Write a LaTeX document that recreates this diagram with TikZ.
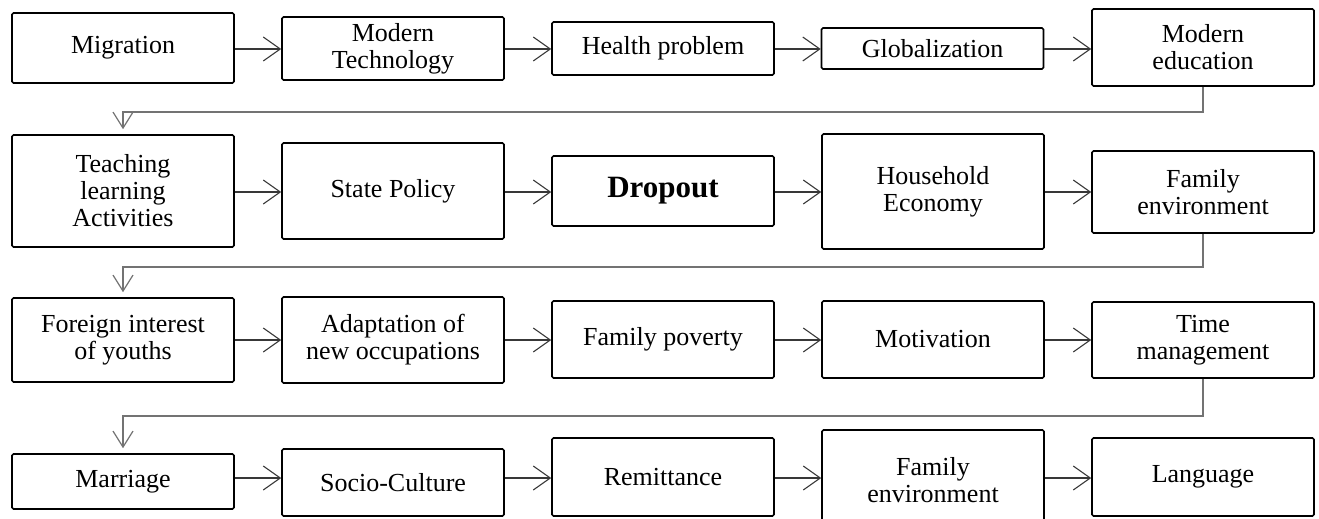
\documentclass[tikz,border=0pt]{standalone}
\usepackage{fontspec}
\setmainfont{Liberation Serif}
\usetikzlibrary{arrows.meta}
\begin{document}
\begin{tikzpicture}[x=1pt,y=-1pt,
  box/.style={draw=black, line width=1.6pt, rounded corners=1.5pt,
    minimum width=222pt, inner sep=0pt, align=center,
    font=\fontsize{26}{27}\selectfont},
  flow/.style={draw=black!78, line width=1.1pt,
    -{Straight Barb[length=17pt,width=24pt,line width=1.1pt]}},
  link/.style={draw=black!55, line width=1.4pt,
    -{Straight Barb[length=16pt,width=20pt,line width=1.2pt]}, shorten >=5pt}]
\clip (0,0) rectangle (1319,519);

% row levels for the horizontal arrows and the return lines
\coordinate (r1) at (0,49);
\coordinate (r2) at (0,192);
\coordinate (r3) at (0,340);
\coordinate (r4) at (0,478);
\coordinate (g1) at (0,112);
\coordinate (g2) at (0,267);
\coordinate (g3) at (0,416);

% row 1
\node[box, minimum height=70pt] (mig)    at (123,48)    {Migration};
\node[box, minimum height=63pt] (tech)   at (393,48.5)  {Modern\\Technology};
\node[box, minimum height=53pt] (health) at (663,48.5)  {Health problem};
\node[box, minimum height=41pt] (glob)   at (932.5,48.5){Globalization};
\node[box, minimum height=77pt] (edu)    at (1203,47.5) {Modern\\education};

% row 2
\node[box, minimum height=112pt] (teach) at (123,191)   {Teaching\\learning\\Activities};
\node[box, minimum height=96pt]  (state) at (393,191)   {State Policy};
\node[box, minimum height=70pt, font=\fontsize{31}{33}\selectfont\bfseries]
                                 (drop)  at (663,191)   {Dropout};
\node[box, minimum height=115pt] (house) at (933,191.5) {Household\\Economy};
\node[box, minimum height=82pt]  (famA)  at (1203,192)  {Family\\environment};

% row 3
\node[box, minimum height=84pt] (foreign) at (123,340)   {Foreign interest\\of youths};
\node[box, minimum height=86pt] (adapt)   at (393,340)   {Adaptation of\\new occupations};
\node[box, minimum height=77pt] (pov)     at (663,339.5) {Family poverty};
\node[box, minimum height=77pt] (motiv)   at (933,339.5) {Motivation};
\node[box, minimum height=76pt] (time)    at (1203,340)  {Time\\management};

% row 4
\node[box, minimum height=55pt]  (marr)  at (123,481.5) {Marriage};
\node[box, minimum height=67pt]  (socio) at (393,482.5) {Socio-Culture};
\node[box, minimum height=78pt]  (remit) at (663,477)   {Remittance};
\node[box, minimum height=100pt] (famB)  at (933,480)   {Family\\environment};
\node[box, minimum height=78pt]  (lang)  at (1203,477)  {Language};

% arrows within each row
\foreach \a/\b/\r in {mig/tech/r1, tech/health/r1, health/glob/r1, glob/edu/r1,
                      teach/state/r2, state/drop/r2, drop/house/r2, house/famA/r2,
                      foreign/adapt/r3, adapt/pov/r3, pov/motiv/r3, motiv/time/r3,
                      marr/socio/r4, socio/remit/r4, remit/famB/r4, famB/lang/r4}
  \draw[flow] (\a.east |- \r) -- (\b.west |- \r);

% return lines from the end of one row to the start of the next
\draw[link] (edu.south)  -- (edu.south |- g1)  -- (teach.north |- g1)   -- (teach.north);
\draw[link] (famA.south) -- (famA.south |- g2) -- (foreign.north |- g2) -- (foreign.north);
\draw[link] (time.south) -- (time.south |- g3) -- (marr.north |- g3)    -- (marr.north);
\end{tikzpicture}
\end{document}
